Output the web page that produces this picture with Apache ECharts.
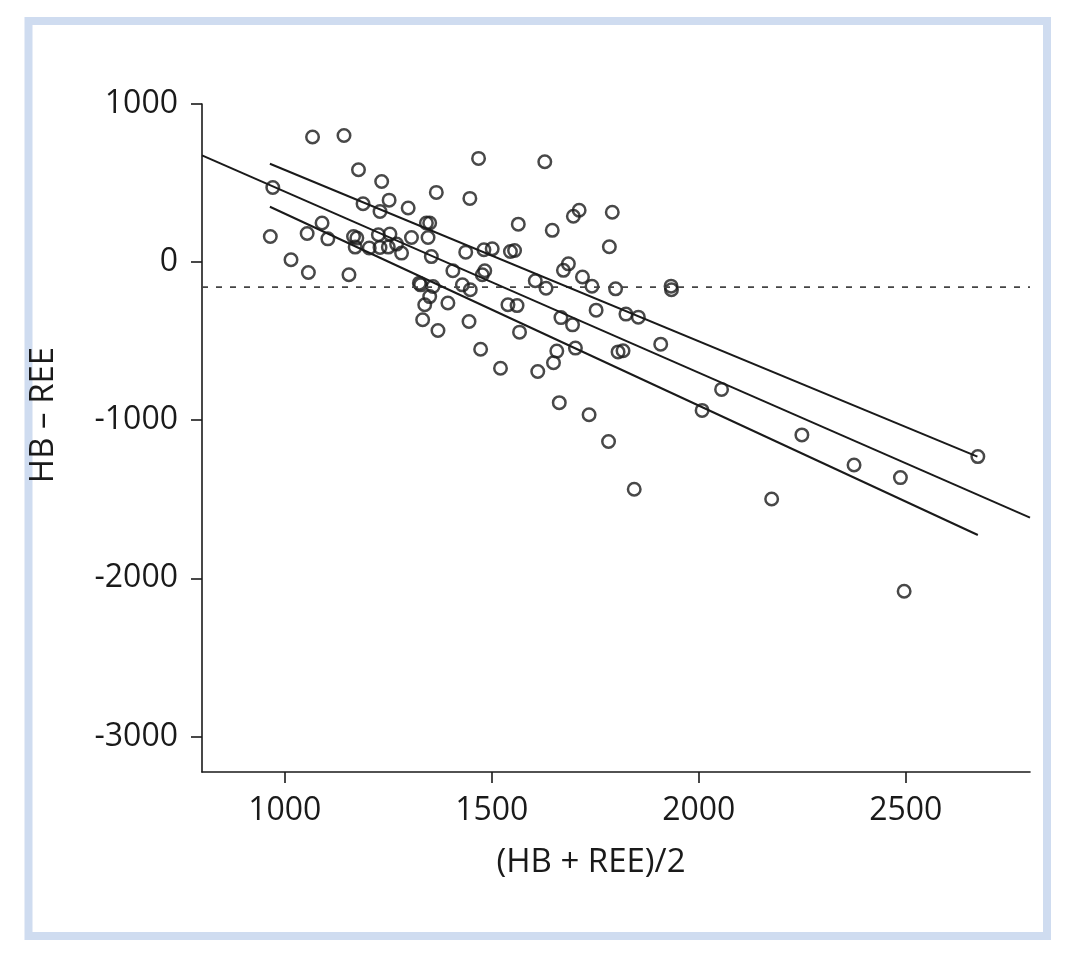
<!DOCTYPE html>
<html>
<head>
<meta charset="utf-8">
<script src="https://cdn.jsdelivr.net/npm/echarts@6/dist/echarts.min.js"></script>
<style>
html,body{margin:0;padding:0;background:#fff;}
#chart{width:1069px;height:957px;}
</style>
</head>
<body>
<div id="chart"></div>
<script>
// (HB + REE)/2 values
const meanValues = [965,971,1015,1054,1057,1067,1090,1104,1143,1155,1166,1174,1170,1178,1189,1204,1226,1230,1234,1230,1250,1252,1254,1270,1282,1298,1306,1325,1328,1342,1350,1346,1354,1358,1350,1338,1333,1366,1370,1394,1406,1429,1437,1445,1447,1448,1468,1473,1477,1483,1481,1501,1521,1539,1545,1555,1561,1564,1567,1605,1611,1628,1631,1646,1657,1649,1663,1667,1673,1685,1695,1697,1711,1702,1719,1735,1742,1752,1782,1784,1791,1799,1805,1817,1824,1844,1854,1908,1933,1934,2008,2055,2176,2249,2375,2487,2496,2674];
// HB - REE values
const diffValues = [162,472,15,181,-66,791,247,147,801,-80,162,152,95,584,369,89,173,320,510,92,95,392,177,114,57,342,156,-133,-144,247,247,156,35,-154,-218,-270,-365,441,-433,-259,-55,-144,63,-376,403,-175,656,-551,-80,-55,78,84,-671,-270,67,73,-275,240,-443,-118,-692,635,-165,201,-563,-637,-889,-351,-52,-11,-397,290,328,-544,-94,-965,-153,-304,-1135,97,315,-169,-568,-561,-329,-1437,-348,-519,-152,-175,-938,-805,-1498,-1093,-1283,-1363,-2082,-1230];
// Regression line and band (endpoints)
const fitLine = [[800, 675], [2800, -1616]];
const upperLine = [[964, 622], [2673, -1230]];
const lowerLine = [[964, 350], [2674, -1726]];
const meanDiff = -158;
const xTicks = [1000, 1500, 2000, 2500];
const yTicks = [-3000, -2000, -1000, 0, 1000];

const points = meanValues.map((x, i) => [x, diffValues[i]]);
const ink = '#1a1a1a';
const font = 'Open Sans';

const chart = echarts.init(document.getElementById('chart'), null, {renderer: 'canvas'});
chart.setOption({
  animation: false,
  backgroundColor: '#fff',
  graphic: [{
    type: 'rect',
    shape: {x: 28.5, y: 21, width: 1018.5, height: 915},
    style: {fill: 'none', stroke: '#cfdcf0', lineWidth: 8},
    silent: true
  }],
  grid: {left: 202, right: 39, top: 104, bottom: 185},
  xAxis: {
    type: 'value', min: 800, max: 2800,
    name: '(HB + REE)/2', nameLocation: 'middle', nameGap: 74,
    nameTextStyle: {fontFamily: font, fontSize: 33, color: ink, padding: [0, 50, 0, 0]},
    axisLine: {show: true, onZero: false, lineStyle: {color: ink, width: 1.6}},
    axisTick: {show: true, length: 11, lineStyle: {color: ink, width: 1.6}, customValues: xTicks},
    axisLabel: {fontFamily: font, fontSize: 32, color: ink, margin: 23, customValues: xTicks,
      formatter: v => String(v)},
    splitLine: {show: false}
  },
  yAxis: {
    type: 'value', min: -3225, max: 1000,
    name: 'HB – REE', nameLocation: 'middle', nameGap: 142,
    nameTextStyle: {fontFamily: font, fontSize: 33, color: ink, padding: [0, 0, 0, 46]},
    axisLine: {show: true, onZero: false, lineStyle: {color: ink, width: 1.6}},
    axisTick: {show: true, length: 11, lineStyle: {color: ink, width: 1.6}, customValues: yTicks},
    axisLabel: {fontFamily: font, fontSize: 32, color: ink, margin: 24, customValues: yTicks,
      formatter: v => String(v)},
    splitLine: {show: false}
  },
  series: [
    {
      type: 'line', data: [[800, meanDiff], [2800, meanDiff]], symbol: 'none',
      lineStyle: {color: '#444', width: 1.7, type: [6, 8]}, silent: true
    },
    {
      type: 'line', data: fitLine, symbol: 'none',
      lineStyle: {color: ink, width: 2}, silent: true
    },
    {
      type: 'line', data: upperLine, symbol: 'none',
      lineStyle: {color: ink, width: 2}, silent: true
    },
    {
      type: 'line', data: lowerLine, symbol: 'none',
      lineStyle: {color: ink, width: 2}, silent: true
    },
    {
      type: 'scatter', data: points, symbol: 'circle', symbolSize: 12.5,
      itemStyle: {color: 'rgba(255,255,255,0)', borderColor: ink, borderWidth: 2.5},
      silent: true
    }
  ]
});
</script>
</body>
</html>
